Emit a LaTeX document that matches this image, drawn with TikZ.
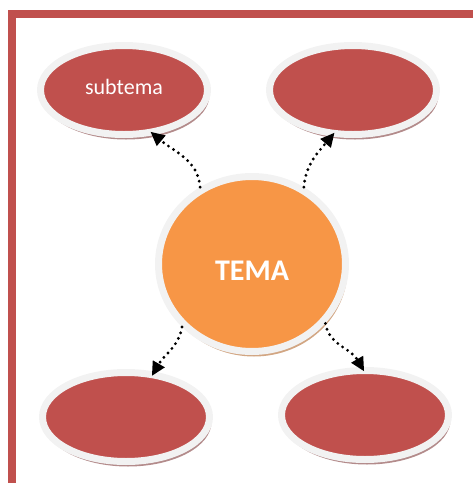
\documentclass[tikz,border=0pt]{standalone}
\usepackage{fontspec}
\setmainfont{Carlito}
\usetikzlibrary{shapes.geometric,arrows.meta,shadows}
\definecolor{accred}{HTML}{C0504D}
\definecolor{accorange}{HTML}{F79646}
\definecolor{ringgray}{HTML}{F2F2F2}
\definecolor{redshadow}{HTML}{B38B8B}
\definecolor{orashadow}{HTML}{D2A683}
\tikzset{
  subbox/.style={ellipse, fill=accred, draw=ringgray, line width=7pt,
    minimum width=167pt, minimum height=89pt, inner sep=0pt,
    text=white, font=\fontsize{22}{24}\selectfont,
    drop shadow={shadow xshift=2pt, shadow yshift=-5pt, fill=redshadow, opacity=1}},
  mainbox/.style={ellipse, fill=accorange, draw=ringgray, line width=7pt,
    minimum width=187pt, minimum height=175pt, inner sep=0pt,
    text=white, font=\fontsize{30}{32}\selectfont\bfseries,
    drop shadow={shadow xshift=2pt, shadow yshift=-5pt, fill=orashadow, opacity=1}},
  link/.style={line width=3.2pt, line cap=round, dash pattern=on 0pt off 6pt,
    -{Triangle[length=14pt,width=13pt]}, shorten >=-5pt}
}
\begin{document}
\begin{tikzpicture}[x=1pt,y=-1pt]
\useasboundingbox (0,0) rectangle (473,483);
\draw[accred, line width=8pt, line join=miter] (12,483) -- (12,14) -- (473,14);
\node[mainbox] (c) at (252,264) {};
\node[text=white, font=\fontsize{30}{32}\selectfont\bfseries] (ct) at (252,271) {TEMA};
\node[subbox] (tl) at (124,90) {};
\node[text=white, font=\fontsize{22}{24}\selectfont] (tlt) at (124,87) {subtema};
\node[subbox] (tr) at (353,90) {};
\node[subbox] (bl) at (126,417) {};
\node[subbox] (br) at (365,415) {};
\draw[link] (c.124) to[out=95, in=-40] (tl.304);
\draw[link] (c.56) to[out=85, in=230] (tr.245);
\draw[link] (c.222) to[out=260, in=60] (bl.58);
\draw[link] (c.321) to[out=280, in=120] (br.94);
\end{tikzpicture}
\end{document}
